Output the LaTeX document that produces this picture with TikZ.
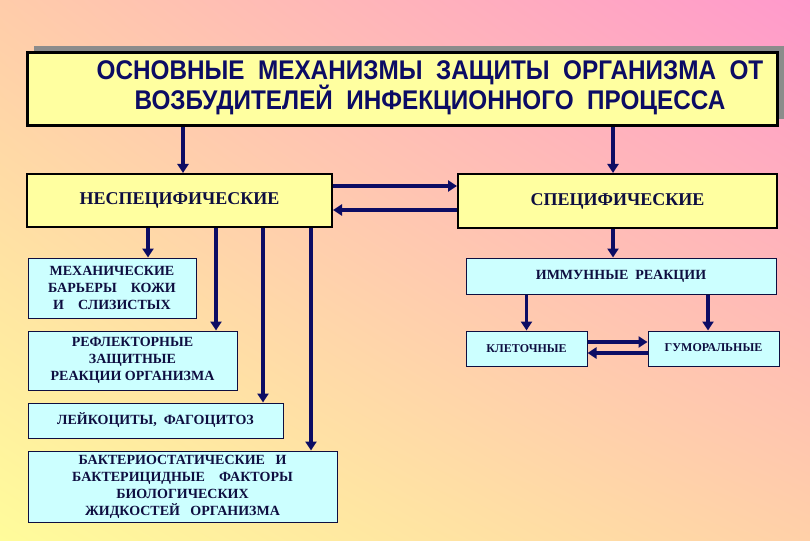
\documentclass[tikz,border=0pt]{standalone}
\usepackage{fontspec}
\setmainfont{Liberation Serif}
\newfontfamily\headfont[FakeStretch=0.9]{Liberation Sans}
\usetikzlibrary{positioning,arrows.meta,shadows,shadings}
\definecolor{bgPeach}{RGB}{255,204,170}
\definecolor{bgPink}{RGB}{255,153,204}
\definecolor{bgYellow}{RGB}{255,252,155}
\definecolor{bgPeach2}{RGB}{255,208,168}
\definecolor{boxYel}{RGB}{255,255,160}
\definecolor{boxCyan}{RGB}{204,255,255}
\definecolor{dNavy}{RGB}{12,12,100}
\definecolor{dInk}{RGB}{14,14,64}
\tikzset{
  headbox/.style={rectangle, draw=black, line width=3pt, fill=boxYel,
                  minimum width=750pt, minimum height=73pt,
                  drop shadow={shadow xshift=7pt, shadow yshift=7pt,
                               fill=black!45, opacity=1}},
  headtxt/.style={align=center, text=dNavy,
                  font=\headfont\bfseries\fontsize{27}{30}\selectfont},
  grp/.style={rectangle, draw=black, line width=2pt, fill=boxYel,
              minimum height=53pt, text=dInk,
              font=\bfseries\fontsize{18}{20}\selectfont},
  item/.style={rectangle, draw=dInk, line width=1pt, fill=boxCyan,
               align=center, text=dInk, inner sep=1pt,
               font=\bfseries\fontsize{14}{17}\selectfont},
  itemsm/.style={item, font=\bfseries\fontsize{12}{17}\selectfont},
  flow/.style={-{Triangle[length=9pt,width=11pt]}, draw=dNavy, line width=3.5pt},
}
\begin{document}
\begin{tikzpicture}[x=1pt, y=-1pt]
  % --- background ---
  \shade[upper left=bgPeach, upper right=bgPink, lower left=bgYellow,
         lower right=bgPeach2] (0,0) rectangle (810,540);

  % --- heading ---
  \node[headbox] (title) at (402,89.5) {};
  \node[headtxt] (titletxt) at (430,88)
    {ОСНОВНЫЕ\ \ МЕХАНИЗМЫ\ \ ЗАЩИТЫ\ \ ОРГАНИЗМА\ \ ОТ\\
     ВОЗБУДИТЕЛЕЙ\ \ ИНФЕКЦИОННОГО\ \ ПРОЦЕССА};

  % --- two groups ---
  \node[grp, minimum width=305pt] (nesp) at (179.5,200.5) {НЕСПЕЦИФИЧЕСКИЕ};
  \node[grp, minimum width=319pt, minimum height=54pt] (spec) at (617.5,201) {СПЕЦИФИЧЕСКИЕ};

  % --- non-specific mechanisms ---
  \node[item, minimum width=168pt, minimum height=60pt] (mech) at (112,288)
    {МЕХАНИЧЕСКИЕ\\БАРЬЕРЫ\ \ \ \ КОЖИ\\И\ \ \ \ СЛИЗИСТЫХ};
  \node[item, minimum width=209pt, minimum height=59pt] (refl) at (132.5,360.5)
    {РЕФЛЕКТОРНЫЕ\\ЗАЩИТНЫЕ\\РЕАКЦИИ ОРГАНИЗМА};
  \node[item, minimum width=255pt, minimum height=35pt] (leuk) at (155.5,420.5)
    {ЛЕЙКОЦИТЫ,\ \ ФАГОЦИТОЗ};
  \node[item, minimum width=309pt, minimum height=71pt] (bakt) at (182.5,486.5)
    {БАКТЕРИОСТАТИЧЕСКИЕ\ \ \ И\\БАКТЕРИЦИДНЫЕ\ \ \ \ ФАКТОРЫ\\БИОЛОГИЧЕСКИХ\\ЖИДКОСТЕЙ\ \ \ ОРГАНИЗМА};

  % --- specific mechanisms ---
  \node[item, minimum width=310pt, minimum height=36pt] (immun) at (621,276)
    {ИММУННЫЕ\ \ РЕАКЦИИ};
  \node[itemsm, minimum width=121pt, minimum height=35pt] (klet) at (526.5,348.5) {КЛЕТОЧНЫЕ};
  \node[itemsm, minimum width=131pt, minimum height=35pt] (gum) at (713.5,348.5)
    {\raisebox{2pt}{ГУМОРАЛЬНЫЕ}};

  % --- connectors ---
  \draw[flow] ([xshift=3.5pt]nesp.north |- title.south) -- ([xshift=3.5pt]nesp.north);
  \draw[flow] ([xshift=-4.5pt]spec.north |- title.south) -- ([xshift=-4.5pt]spec.north);
  \draw[flow] ([yshift=14.5pt]nesp.east) -- ([yshift=14.5pt]nesp.east -| spec.west);
  \draw[flow] ([yshift=-9pt]spec.west) -- ([yshift=-9pt]spec.west -| nesp.east);

  \draw[flow] ([xshift=-31.5pt]nesp.south) -- ([xshift=-31.5pt]nesp.south |- mech.north);
  \draw[flow] ([xshift=36.5pt]nesp.south) -- ([xshift=36.5pt]nesp.south |- refl.north);
  \draw[flow] ([xshift=83.5pt]nesp.south) -- ([xshift=83.5pt]nesp.south |- leuk.north);
  \draw[flow] ([xshift=131.5pt]nesp.south) -- ([xshift=131.5pt]nesp.south |- bakt.north);

  \draw[flow] ([xshift=-4.5pt]spec.south) -- ([xshift=-4.5pt]spec.south |- immun.north);
  \draw[flow] (klet.north |- immun.south) -- (klet.north);
  \draw[flow] ([xshift=-5.5pt]gum.north |- immun.south) -- ([xshift=-5.5pt]gum.north);
  \draw[flow] ([yshift=6.5pt]klet.east) -- ([yshift=6.5pt]klet.east -| gum.west);
  \draw[flow] ([yshift=-4.5pt]gum.west) -- ([yshift=-4.5pt]gum.west -| klet.east);
\end{tikzpicture}
\end{document}
